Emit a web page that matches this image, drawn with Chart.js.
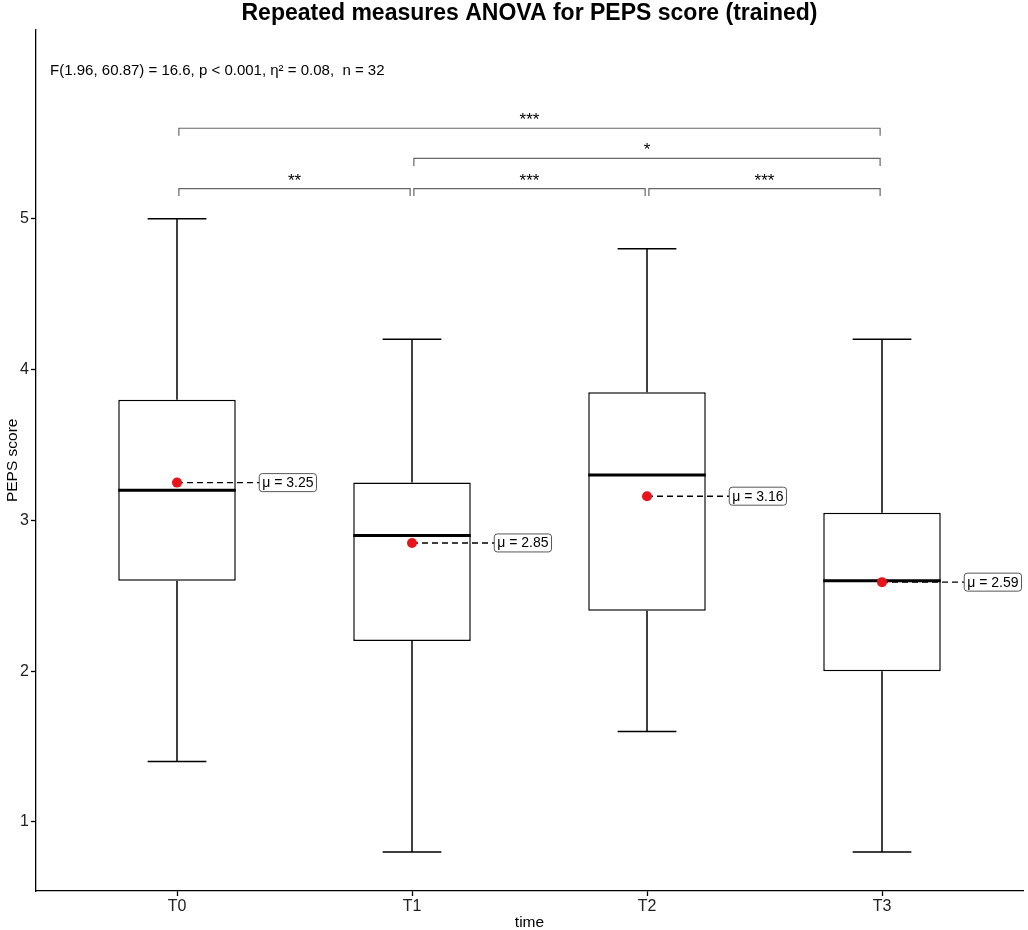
<!DOCTYPE html>
<html>
<head>
<meta charset="utf-8">
<script src="https://cdn.jsdelivr.net/npm/chart.js@4"></script>
<style>
  body { margin: 0; background: #fff; }
  canvas { display: block; }
</style>
</head>
<body>
<canvas id="anova" width="1028" height="930"></canvas>
<script>
var categories = ['T0', 'T1', 'T2', 'T3'];
var whiskerLow = [1.4, 0.8, 1.6, 0.8];
var q1 = [2.6, 2.2, 2.4, 2.0];
var medians = [3.2, 2.9, 3.3, 2.6];
var q3 = [3.8, 3.25, 3.85, 3.05];
var whiskerHigh = [5.0, 4.2, 4.8, 4.2];
var means = [3.25, 2.85, 3.16, 2.59];
var yTicks = [1, 2, 3, 4, 5];

// pairwise comparisons (ggpubr brackets)
var pairFrom = [0, 1, 2, 1, 0];
var pairTo = [1, 2, 3, 3, 3];
var pairY = [5.2, 5.2, 5.2, 5.4, 5.6];
var pairStars = ['**', '***', '***', '*', '***'];

var subtitle = 'F(1.96, 60.87) = 16.6, p < 0.001, \u03b7\u00b2 = 0.08,  n = 32';
var FONT = "'Liberation Sans', Arial, sans-serif";

var boxHalf = 0.25, capHalf = 0.125, labelOffset = 0.35, tip = 0.05, gap = 0.008;

var boxData = categories.map(function (c, i) { return { x: i, y: [q1[i], q3[i]] }; });

var medianData = [], whiskerData = [], meanLineData = [], bracketData = [];
categories.forEach(function (c, i) {
  medianData.push({ x: i - boxHalf, y: medians[i] }, { x: i + boxHalf, y: medians[i] }, { x: i, y: null });
  whiskerData.push(
    { x: i, y: q3[i] }, { x: i, y: whiskerHigh[i] }, { x: i, y: null },
    { x: i - capHalf, y: whiskerHigh[i] }, { x: i + capHalf, y: whiskerHigh[i] }, { x: i, y: null },
    { x: i, y: q1[i] }, { x: i, y: whiskerLow[i] }, { x: i, y: null },
    { x: i - capHalf, y: whiskerLow[i] }, { x: i + capHalf, y: whiskerLow[i] }, { x: i, y: null }
  );
  meanLineData.push({ x: i, y: means[i] }, { x: i + labelOffset, y: means[i] }, { x: i, y: null });
});
pairFrom.forEach(function (a, k) {
  var b = pairTo[k], y = pairY[k];
  bracketData.push(
    { x: a + gap, y: y - tip }, { x: a + gap, y: y }, { x: b - gap, y: y }, { x: b - gap, y: y - tip },
    { x: a, y: null }
  );
});
var meanData = means.map(function (m, i) { return { x: i, y: m }; });

var annotations = {
  id: 'annotations',
  afterDatasetsDraw: function (chart) {
    var ctx = chart.ctx, xs = chart.scales.x, ys = chart.scales.y;
    ctx.save();
    // stars above brackets
    ctx.fillStyle = '#000';
    ctx.font = '17px ' + FONT;
    ctx.textAlign = 'center';
    ctx.textBaseline = 'alphabetic';
    pairFrom.forEach(function (a, k) {
      var px = xs.getPixelForValue((a + pairTo[k]) / 2);
      var py = ys.getPixelForValue(pairY[k]);
      ctx.fillText(pairStars[k], px, py - 3);
    });
    // subtitle
    ctx.font = '15px ' + FONT;
    ctx.textAlign = 'left';
    ctx.textBaseline = 'middle';
    ctx.fillText(subtitle, xs.getPixelForValue(-0.54), ys.getPixelForValue(5.98));
    // mean labels
    ctx.font = '14px ' + FONT;
    means.forEach(function (m, i) {
      var txt = '\u03bc = ' + m.toFixed(2);
      var w = ctx.measureText(txt).width + 6, h = 18;
      var x0 = xs.getPixelForValue(i + labelOffset), y0 = ys.getPixelForValue(m) - h / 2;
      ctx.beginPath();
      ctx.roundRect(x0, y0, w, h, 3);
      ctx.fillStyle = '#fff';
      ctx.fill();
      ctx.lineWidth = 0.9;
      ctx.strokeStyle = '#444';
      ctx.stroke();
      ctx.fillStyle = '#000';
      ctx.fillText(txt, x0 + 3, y0 + h / 2 + 0.5);
    });
    ctx.restore();
  }
};

var lineDefaults = { type: 'line', pointRadius: 0, spanGaps: false, tension: 0, fill: false };

var chart = new Chart(document.getElementById('anova'), {
  type: 'bar',
  data: {
    datasets: [
      { type: 'scatter', data: meanData, pointRadius: 5, pointHoverRadius: 5,
        backgroundColor: '#e8141b', borderColor: '#e8141b', borderWidth: 0 },
      Object.assign({ data: meanLineData, borderColor: '#000', borderWidth: 1.4, borderDash: [6, 4] }, lineDefaults),
      Object.assign({ data: medianData, borderColor: '#000', borderWidth: 3, borderCapStyle: 'butt' }, lineDefaults),
      Object.assign({ data: whiskerData, borderColor: '#000', borderWidth: 1.5 }, lineDefaults),
      Object.assign({ data: bracketData, borderColor: '#666', borderWidth: 1.2 }, lineDefaults),
      { type: 'bar', data: boxData, backgroundColor: '#fff', borderColor: '#000', borderWidth: 1.5,
        borderSkipped: false, barPercentage: 0.5, categoryPercentage: 1, grouped: false }
    ]
  },
  options: {
    responsive: false,
    animation: false,
    devicePixelRatio: 1,
    layout: { padding: { left: 0, right: 2, top: 0, bottom: 0 } },
    plugins: {
      legend: { display: false },
      tooltip: { enabled: false },
      title: {
        display: true,
        text: 'Repeated measures ANOVA for PEPS score (trained)',
        fullSize: false,
        color: '#000',
        font: { family: FONT, size: 23, weight: 'bold' },
        padding: { top: 0, bottom: 2 }
      }
    },
    scales: {
      x: {
        type: 'linear',
        offset: false,
        min: -0.6,
        max: 3.6,
        afterBuildTicks: function (axis) { axis.ticks = categories.map(function (c, i) { return { value: i }; }); },
        afterFit: function (axis) { axis.height = 39; },
        ticks: {
          callback: function (v) { return categories[v]; },
          color: '#222',
          font: { family: FONT, size: 16 },
          padding: 1,
          maxRotation: 0,
          autoSkip: false
        },
        grid: { display: true, offset: false, drawOnChartArea: false, drawTicks: true, tickLength: 5, color: '#000', tickWidth: 1.3 },
        border: { display: true, color: '#000', width: 1.3 },
        title: { display: true, text: 'time', color: '#000', font: { family: FONT, size: 15.5 }, padding: { top: 0, bottom: -2 } }
      },
      y: {
        min: 0.542,
        max: 6.254,
        afterBuildTicks: function (axis) { axis.ticks = yTicks.map(function (v) { return { value: v }; }); },
        afterFit: function (axis) { axis.width = 36; },
        ticks: {
          color: '#222',
          font: { family: FONT, size: 16 },
          padding: 2
        },
        grid: { display: true, drawOnChartArea: false, drawTicks: true, tickLength: 5, color: '#000', tickWidth: 1.3 },
        border: { display: true, color: '#000', width: 1.3 },
        title: { display: true, text: 'PEPS score', color: '#000', font: { family: FONT, size: 15.5 }, padding: { top: 3, bottom: 0 } }
      }
    }
  },
  plugins: [annotations]
});
</script>
</body>
</html>
